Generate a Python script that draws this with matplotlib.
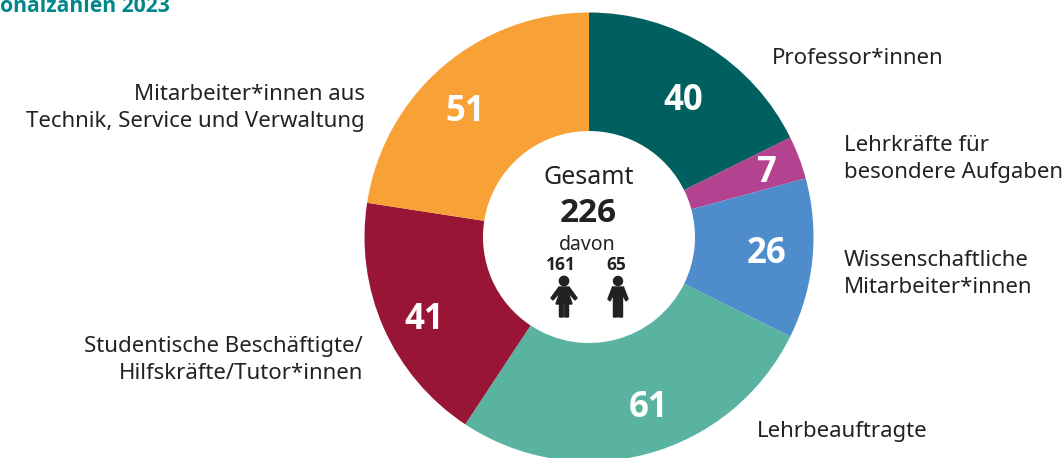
import matplotlib
matplotlib.use('Agg')
import matplotlib.pyplot as plt
from matplotlib.patches import Circle, Polygon

# Personalzahlen 2023
werte = [40, 7, 26, 61, 41, 51]
farben = ['#005f5f', '#b34291', '#4f8ccb', '#5ab2a0', '#981535', '#f8a137']
gesamt = 226
frauen = 161
maenner = 65

plt.rcParams['font.family'] = ['Noto Sans', 'DejaVu Sans']
fett = ['Open Sans', 'DejaVu Sans']
dunkel = '#222222'

fig = plt.figure(figsize=(10.64, 4.58), dpi=100)
ax = fig.add_axes([0, 0, 1, 1])

cx, cy, r = 589, 237, 224.5
# y-Achse ist invertiert, darum startangle=-90 und counterclock=True
ax.pie(werte, startangle=-90, counterclock=True, colors=farben, center=(cx, cy), radius=r,
       wedgeprops=dict(width=r - 106, linewidth=0), frame=False)
ax.set_xlim(0, 1064)
ax.set_ylim(458, 0)
ax.set_aspect('equal')
ax.axis('off')

wert_pos = [(683, 101), (766, 173), (767, 254), (649, 408), (424, 320), (465, 112)]
for w, p in zip(werte, wert_pos):
    ax.text(p[0], p[1], str(w), color='white', fontsize=25, fontweight='bold', family=fett, ha='center', va='center')

ax.text(170, 7, 'onalzahlen 2023', color='#00878a', fontsize=15.2, fontweight='bold', family=fett, ha='right', va='center')

gr = 16
ax.text(772, 58, 'Professor*innen', fontsize=gr, color=dunkel, va='center')
ax.text(844, 159, 'Lehrkräfte für\nbesondere Aufgaben', fontsize=gr, color=dunkel, va='center', linespacing=1.4)
ax.text(844, 274, 'Wissenschaftliche\nMitarbeiter*innen', fontsize=gr, color=dunkel, va='center', linespacing=1.4)
ax.text(757, 431, 'Lehrbeauftragte', fontsize=gr, color=dunkel, va='center')
ax.text(363, 360, 'Studentische Beschäftigte/\nHilfskräfte/Tutor*innen', fontsize=gr, color=dunkel, va='center', ha='right', linespacing=1.4)
ax.text(365, 108, 'Mitarbeiter*innen aus\nTechnik, Service und Verwaltung', fontsize=gr, color=dunkel, va='center', ha='right', linespacing=1.4)

ax.text(589, 177, 'Gesamt', fontsize=18, color=dunkel, ha='center', va='center')
ax.text(588, 213, str(gesamt), fontsize=24, fontweight='bold', family=fett, color=dunkel, ha='center', va='center')
ax.text(587, 245, 'davon', fontsize=14, color=dunkel, ha='center', va='center')
ax.text(561, 265, str(frauen), fontsize=12.5, fontweight='bold', family=fett, color=dunkel, ha='center', va='center')
ax.text(616, 265, str(maenner), fontsize=12.5, fontweight='bold', family=fett, color=dunkel, ha='center', va='center')

# Piktogramme
def frau(x):
    ax.add_patch(Circle((x, 281), 4.7, color=dunkel))
    ax.add_patch(Polygon([(x-5, 287), (x+5, 287), (x+13, 298), (x+11, 300), (x+4, 292), (x+8, 304), (x+4.5, 304),
                          (x+4.5, 317), (x+0.8, 317), (x+0.8, 304), (x-0.8, 304), (x-0.8, 317), (x-4.5, 317), (x-4.5, 304),
                          (x-8, 304), (x-4, 292), (x-11, 300), (x-13, 298)], color=dunkel))

def mann(x):
    ax.add_patch(Circle((x, 281), 4.5, color=dunkel))
    ax.add_patch(Polygon([(x-5.5, 287), (x+5.5, 287), (x+10, 299), (x+8, 301), (x+4.5, 294), (x+4.5, 317), (x+0.7, 317),
                          (x+0.7, 302), (x-0.7, 302), (x-0.7, 317), (x-4.5, 317), (x-4.5, 294), (x-8, 301), (x-10, 299)], color=dunkel))

frau(564)
mann(618)

fig.savefig('out.png', dpi=100)
